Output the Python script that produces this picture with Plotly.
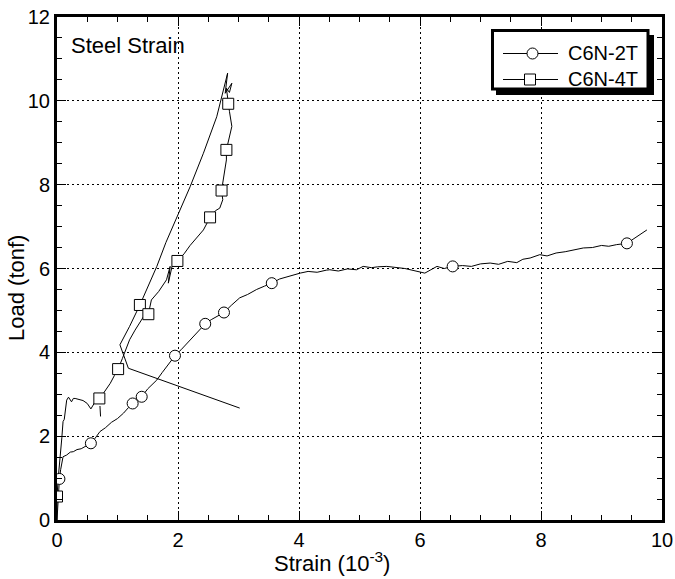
import plotly.graph_objects as go

# ---- data ----
series_names = ["C6N-2T", "C6N-4T"]

x_2t = [0, 0.01, 0.02, 0.04, 0.06, 0.10, 0.16, 0.22, 0.27, 0.33, 0.40, 0.47, 0.56, 0.63, 0.71, 0.80,
        0.90, 1.00, 1.10, 1.18, 1.25, 1.33, 1.40, 1.50, 1.58, 1.65, 1.74, 1.85, 1.95, 2.05, 2.15, 2.25,
        2.35, 2.45, 2.55, 2.66, 2.76, 2.88, 3.02, 3.15, 3.30, 3.43, 3.55, 3.68, 3.80, 3.92, 4.02, 4.15,
        4.30, 4.45, 4.51, 4.65, 4.80, 4.95, 5.06, 5.20, 5.30, 5.45, 5.60, 5.75, 5.90, 6.08, 6.18, 6.28,
        6.40, 6.54, 6.70, 6.85, 7.00, 7.16, 7.30, 7.45, 7.60, 7.70, 7.82, 7.98, 8.10, 8.25, 8.40, 8.55,
        8.70, 8.85, 9.00, 9.12, 9.25, 9.42, 9.52, 9.62, 9.75]
y_2t = [0, 0.30, 0.60, 0.98, 1.20, 1.51, 1.55, 1.62, 1.63, 1.68, 1.70, 1.76, 1.83, 1.95, 2.11, 2.20,
        2.33, 2.42, 2.55, 2.68, 2.78, 2.85, 2.94, 3.13, 3.25, 3.34, 3.52, 3.72, 3.92, 4.06, 4.22, 4.38,
        4.52, 4.68, 4.78, 4.88, 4.95, 5.12, 5.30, 5.38, 5.50, 5.58, 5.65, 5.75, 5.80, 5.86, 5.89, 5.93,
        5.91, 5.96, 5.97, 5.94, 5.99, 5.97, 6.05, 6.02, 6.04, 6.05, 6.03, 6.00, 5.95, 5.89, 5.97, 6.05,
        6.00, 6.05, 6.07, 6.05, 6.11, 6.13, 6.10, 6.17, 6.14, 6.22, 6.25, 6.33, 6.30, 6.37, 6.40, 6.44,
        6.49, 6.50, 6.55, 6.53, 6.57, 6.60, 6.70, 6.80, 6.92]
mx_2t = [0.04, 0.56, 1.25, 1.40, 1.95, 2.45, 2.76, 3.55, 6.54, 9.42]
my_2t = [0.98, 1.83, 2.78, 2.94, 3.92, 4.68, 4.95, 5.65, 6.05, 6.60]

x_4t = [0, 0.00, 0.02, 0.05, 0.08, 0.10, 0.12, 0.16, 0.19, 0.24, 0.27, 0.30, 0.36, 0.43, 0.50, 0.56,
        0.63, 0.70, 0.78, 0.88, 0.95, 1.01, 1.08, 1.13, 1.20, 1.29, 1.43, 1.51, 1.56, 1.68, 1.81, 1.87,
        1.84, 1.90, 1.99, 2.10, 2.20, 2.30, 2.42, 2.53, 2.62, 2.69, 2.74, 2.72, 2.76, 2.80, 2.80, 2.84,
        2.89, 2.85, 2.83, 2.80, 2.85, 2.89, 2.78, 2.82, 2.64, 2.42, 2.20, 1.98, 1.80, 1.65, 1.43, 1.37,
        1.20, 1.04, 1.18, 3.02, None, 0.72, 0.71]
y_4t = [0, 0.56, 1.00, 1.43, 1.96, 2.35, 2.40, 2.86, 2.93, 2.82, 2.90, 2.90, 2.87, 2.85, 2.78, 2.65,
        2.82, 2.90, 3.05, 3.26, 3.45, 3.60, 3.85, 4.05, 4.30, 4.53, 4.85, 4.91, 5.25, 5.45, 5.73, 6.05,
        5.65, 6.04, 6.18, 6.35, 6.55, 6.72, 6.92, 7.22, 7.38, 7.44, 7.64, 7.86, 8.20, 8.59, 8.83, 9.10,
        9.39, 9.75, 9.93, 10.30, 10.20, 10.42, 10.18, 10.66, 9.62, 8.75, 7.95, 7.24, 6.62, 6.05, 5.33, 5.13,
        4.62, 4.18, 3.62, 2.67, None, 2.47, 2.72]
mx_4t = [0.00, 0.70, 1.01, 1.37, 1.51, 1.99, 2.53, 2.72, 2.80, 2.83]
my_4t = [0.56, 2.90, 3.60, 5.13, 4.91, 6.18, 7.22, 7.86, 8.83, 9.93]

x_ticks = [0, 2, 4, 6, 8, 10]
y_ticks = [0, 2, 4, 6, 8, 10, 12]

FONT = "Liberation Sans, Arial, sans-serif"

# plot-area pixel frame (for layout decorations in paper coordinates)
L, R, T, B = 57, 662, 17, 520
def px(xp):
    return (xp - L) / (R - L)
def py(yp):
    return (B - yp) / (B - T)

fig = go.Figure()

line_style = dict(color="black", width=1)

fig.add_trace(go.Scatter(x=x_2t, y=y_2t, mode="lines", line=line_style, name=series_names[0],
                         showlegend=False, connectgaps=False, hoverinfo="skip"))
fig.add_trace(go.Scatter(x=x_4t, y=y_4t, mode="lines", line=line_style, name=series_names[1],
                         showlegend=False, connectgaps=False, hoverinfo="skip"))
fig.add_trace(go.Scatter(x=mx_2t, y=my_2t, mode="markers", showlegend=False, name=series_names[0],
                         marker=dict(symbol="circle", size=11, color="white",
                                     line=dict(width=1, color="black"))))
fig.add_trace(go.Scatter(x=mx_4t, y=my_4t, mode="markers", showlegend=False, name=series_names[1],
                         marker=dict(symbol="square", size=11, color="white",
                                     line=dict(width=1, color="black"))))

axis_common = dict(
    showline=True, linecolor="black", linewidth=3, mirror="ticks",
    ticks="inside", ticklen=9, tickwidth=1, tickcolor="black",
    showgrid=True, gridcolor="black", gridwidth=1, griddash="2px,3px",
    zeroline=False, automargin=False,
    tickfont=dict(family=FONT, size=20, color="black"),
    minor=dict(ticks="inside", ticklen=5, tickwidth=1, tickcolor="black", dtick=0.5, showgrid=False),
)

fig.update_xaxes(range=[0, 10], tickvals=x_ticks, ticktext=[str(v) for v in x_ticks], **axis_common)
fig.update_yaxes(range=[0, 12], tickvals=y_ticks, ticktext=[str(v) for v in y_ticks], **axis_common)

# ---- hand-drawn legend (box with drop shadow) ----
leg_y = [53.5, 79.5]
shapes = [
    dict(type="rect", xref="paper", yref="paper", x0=px(496), x1=px(654), y0=py(95), y1=py(35),
         fillcolor="black", line=dict(width=0), layer="above"),
    dict(type="rect", xref="paper", yref="paper", x0=px(492.5), x1=px(648), y0=py(89), y1=py(30.5),
         fillcolor="white", line=dict(width=3, color="black"), layer="above"),
]
annotations = []
for i, name in enumerate(series_names):
    yy = py(leg_y[i])
    shapes.append(dict(type="line", xref="paper", yref="paper", x0=px(503), x1=px(558), y0=yy, y1=yy,
                       line=dict(width=1, color="black"), layer="above"))
    cx = px(532.5) if i == 0 else px(530)
    shapes.append(dict(type="circle" if i == 0 else "rect", xref="paper", yref="paper",
                       xsizemode="pixel", ysizemode="pixel", xanchor=cx, yanchor=yy,
                       x0=-5.5, x1=5.5, y0=-5.5, y1=5.5,
                       fillcolor="white", line=dict(width=1, color="black"), layer="above"))
    annotations.append(dict(text=name, xref="paper", yref="paper", x=px(566), y=yy,
                            xanchor="left", yanchor="middle", showarrow=False,
                            font=dict(family=FONT, size=20, color="black")))

annotations += [
    dict(text="Steel Strain", xref="paper", yref="paper", x=px(69), y=py(45),
         xanchor="left", yanchor="middle", showarrow=False,
         font=dict(family=FONT, size=22, color="black")),
    dict(text="Strain (10<sup>-3</sup>)", xref="paper", yref="paper", x=px(332), y=py(562),
         xanchor="center", yanchor="middle", showarrow=False,
         font=dict(family=FONT, size=22, color="black")),
    dict(text="Load (tonf)", xref="paper", yref="paper", x=px(16), y=py(288),
         xanchor="center", yanchor="middle", showarrow=False, textangle=-90,
         font=dict(family=FONT, size=22, color="black")),
]

fig.update_layout(
    width=675, height=579,
    margin=dict(l=L, r=675 - R, t=T, b=579 - B),
    paper_bgcolor="white", plot_bgcolor="white",
    showlegend=False,
    annotations=annotations,
    shapes=shapes,
)

fig.write_html("out.html")
